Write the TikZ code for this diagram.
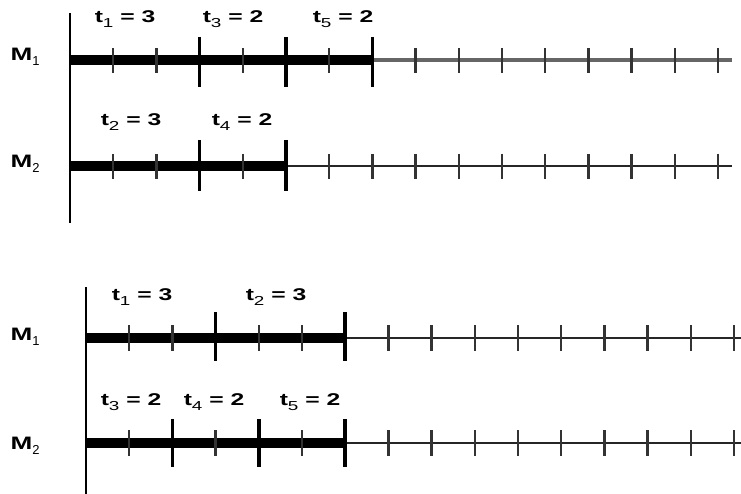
\documentclass[tikz,border=0pt]{standalone}
\usepackage{graphicx}
\usepackage{fontspec}
\setmainfont{Liberation Sans}
\newcommand\subnum[1]{\raisebox{-0.3em}{\fontsize{13}{14}\selectfont\mdseries #1}}
\newcommand\widetext[1]{\scalebox{1.45}[1]{#1}}
\begin{document}
\begin{tikzpicture}[x=1pt,y=-1pt,
  axis/.style={line width=1.6pt,black},
  bar/.style={line width=10pt,black},
  bigtick/.style={line width=3.5pt,black},
  smalltick/.style={line width=2.5pt,black!80},
  thinline/.style={line width=2.8pt,black!85},
  grayline/.style={line width=3.4pt,black!60},
  lbl/.style={font=\fontsize{17}{20}\selectfont\bfseries, inner sep=0pt},
  mlbl/.style={font=\fontsize{18}{20}\selectfont\bfseries, inner sep=0pt}]
\useasboundingbox (0,0) rectangle (741,494);
% ---------- top diagram ----------
\coordinate (A0) at (70,13);
\coordinate (A1) at (70,223);
\draw[axis] (A0) -- (A1);
\coordinate (T1s) at (70,60);
\coordinate (T1m) at (373,60);
\coordinate (T1e) at (732,60);
\draw[grayline] (T1m) -- (T1e);
\draw[bar] (T1s) -- (T1m);
\foreach \k in {1,2,4,6,8,9,10,11,12,13,14,15}
  \draw[smalltick] ({70+43.2*\k},48) -- ++(0,25);
\foreach \k in {3,5,7}
  \draw[bigtick] ({70+43.2*\k},37) -- ++(0,50);
\coordinate (T2s) at (70,166);
\coordinate (T2m) at (286,166);
\coordinate (T2e) at (732,166);
\draw[thinline] (T2m) -- (T2e);
\draw[bar] (T2s) -- (T2m);
\foreach \k in {1,2,4,6,7,8,9,10,11,12,13,14,15}
  \draw[smalltick] ({70+43.2*\k},154) -- ++(0,25);
\foreach \k in {3,5}
  \draw[bigtick] ({70+43.2*\k},140) -- ++(0,51);
\node[mlbl] (m1a) at (25,57) {\widetext{M}\subnum{1}};
\node[mlbl] (m2a) at (25,164) {\widetext{M}\subnum{2}};
\node[lbl] (la1) at (125,19) {\widetext{t\subnum{1} = 3}};
\node[lbl] (la3) at (233,19) {\widetext{t\subnum{3} = 2}};
\node[lbl] (la5) at (343,19) {\widetext{t\subnum{5} = 2}};
\node[lbl] (la2) at (131,122) {\widetext{t\subnum{2} = 3}};
\node[lbl] (la4) at (242,122) {\widetext{t\subnum{4} = 2}};
% ---------- bottom diagram ----------
\coordinate (B0) at (86,287);
\coordinate (B1) at (86,494);
\draw[axis] (B0) -- (B1);
\coordinate (B1s) at (86,338);
\coordinate (B1m) at (345,338);
\coordinate (B1e) at (741,338);
\draw[thinline] (B1m) -- (B1e);
\draw[bar] (B1s) -- (B1m);
\foreach \k in {1,2,4,5,7,8,9,10,11,12,13,14,15}
  \draw[smalltick] ({86+43.2*\k},325) -- ++(0,26);
\foreach \k in {3,6}
  \draw[bigtick] ({86+43.2*\k},312) -- ++(0,49);
\coordinate (B2s) at (86,443);
\coordinate (B2m) at (345,443);
\coordinate (B2e) at (741,443);
\draw[thinline] (B2m) -- (B2e);
\draw[bar] (B2s) -- (B2m);
\foreach \k in {1,3,5,7,8,9,10,11,12,13,14,15}
  \draw[smalltick] ({86+43.2*\k},430) -- ++(0,26);
\foreach \k in {2,4,6}
  \draw[bigtick] ({86+43.2*\k},419) -- ++(0,48);
\node[mlbl] (m1b) at (25,337) {\widetext{M}\subnum{1}};
\node[mlbl] (m2b) at (25,446) {\widetext{M}\subnum{2}};
\node[lbl] (lb1) at (142,297) {\widetext{t\subnum{1} = 3}};
\node[lbl] (lb2) at (276,297) {\widetext{t\subnum{2} = 3}};
\node[lbl] (lb3) at (131,402) {\widetext{t\subnum{3} = 2}};
\node[lbl] (lb4) at (214,402) {\widetext{t\subnum{4} = 2}};
\node[lbl] (lb5) at (310,402) {\widetext{t\subnum{5} = 2}};
\end{tikzpicture}
\end{document}
